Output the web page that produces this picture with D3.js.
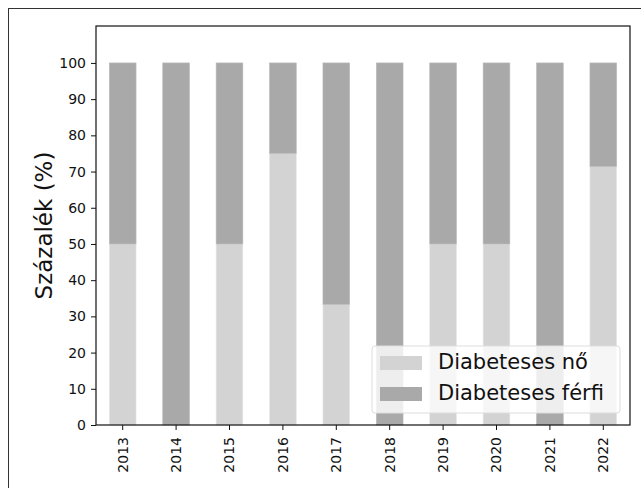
<!DOCTYPE html>
<html>
<head>
<meta charset="utf-8">
<script src="https://cdn.jsdelivr.net/npm/d3@7"></script>
<style>
  body { margin: 0; background: #fff; }
  text { font-family: "DejaVu Sans", sans-serif; }
</style>
</head>
<body>
<div id="chart"></div>
<script>
// Adatok
const years = ["2013", "2014", "2015", "2016", "2017", "2018", "2019", "2020", "2021", "2022"];
const female = [50, 0, 50, 75, 33.3, 0, 50, 50, 0, 71.4];
const male = [50, 100, 50, 25, 66.7, 100, 50, 50, 100, 28.6];
const yTicks = [0, 10, 20, 30, 40, 50, 60, 70, 80, 90, 100];
const seriesNames = ["Diabeteses nő", "Diabeteses férfi"];
const colors = ["#d3d3d3", "#a9a9a9"];

const W = 641, H = 488;
const mLeft = 96, mRight = 630, mTop = 26, mBottom = 425;

const svg = d3.select("#chart").append("svg").attr("width", W).attr("height", H);

// Külső keret (csak bal és felső él látszik)
svg.append("rect")
  .attr("x", 8.5).attr("y", 8.5)
  .attr("width", 700).attr("height", 600)
  .attr("fill", "none").attr("stroke", "#333").attr("stroke-width", 1);

// Skálák
const x = d3.scaleBand().domain(years).range([mLeft, mRight]).paddingInner(0.5).paddingOuter(0.25);
const y = d3.scaleLinear().domain([0, 110.2]).range([mBottom, mTop]);

// Oszlopok
const data = years.map((yr, i) => ({ year: yr, f: female[i], m: male[i] }));
const g = svg.append("g");
data.forEach(d => {
  g.append("rect")
    .attr("x", x(d.year)).attr("width", x.bandwidth())
    .attr("y", y(d.f)).attr("height", y(0) - y(d.f))
    .attr("fill", colors[0]).attr("stroke", "#e6e6e6").attr("stroke-width", 0.6);
  g.append("rect")
    .attr("x", x(d.year)).attr("width", x.bandwidth())
    .attr("y", y(d.f + d.m)).attr("height", y(d.f) - y(d.f + d.m))
    .attr("fill", colors[1]).attr("stroke", "#b8b8b8").attr("stroke-width", 0.6);
});

// Tengelyek
const yAxis = svg.append("g")
  .attr("transform", `translate(${mLeft},0)`)
  .call(d3.axisLeft(y).tickValues(yTicks).tickSize(5).tickPadding(5).tickSizeOuter(0));
yAxis.attr("font-size", 14);
yAxis.selectAll("text").attr("font-size", 14).attr("fill", "#111");

const xAxis = svg.append("g")
  .attr("transform", `translate(0,${mBottom})`)
  .call(d3.axisBottom(x).tickSize(5).tickSizeOuter(0));
xAxis.attr("font-size", 14);
xAxis.selectAll("text")
  .attr("font-size", 14).attr("fill", "#111")
  .attr("transform", "rotate(-90)")
  .attr("text-anchor", "end")
  .attr("x", -12).attr("y", 0).attr("dy", "0.35em");
svg.selectAll(".domain").remove();
svg.selectAll(".tick line").attr("stroke", "#111").attr("stroke-width", 1);

// Keret
svg.append("rect")
  .attr("x", mLeft).attr("y", mTop)
  .attr("width", mRight - mLeft).attr("height", mBottom - mTop)
  .attr("fill", "none").attr("stroke", "#111").attr("stroke-width", 1.2);

// Y címke
svg.append("text")
  .attr("transform", `translate(45,${(mTop + mBottom) / 2}) rotate(-90)`)
  .attr("text-anchor", "middle")
  .attr("dominant-baseline", "middle")
  .attr("font-size", 23).attr("fill", "#111")
  .text("Százalék (%)");

// Jelmagyarázat
const lg = svg.append("g").attr("transform", "translate(372,346)");
lg.append("rect")
  .attr("width", 248).attr("height", 67).attr("rx", 3)
  .attr("fill", "#fff").attr("fill-opacity", 0.8)
  .attr("stroke", "#ddd");
seriesNames.forEach((name, i) => {
  lg.append("rect")
    .attr("x", 8).attr("y", 10 + i * 31).attr("width", 42).attr("height", 14)
    .attr("fill", colors[i]);
  lg.append("text")
    .attr("x", 66).attr("y", 17 + i * 31)
    .attr("dominant-baseline", "middle")
    .attr("font-size", 21).attr("fill", "#111")
    .text(name);
});
</script>
</body>
</html>
